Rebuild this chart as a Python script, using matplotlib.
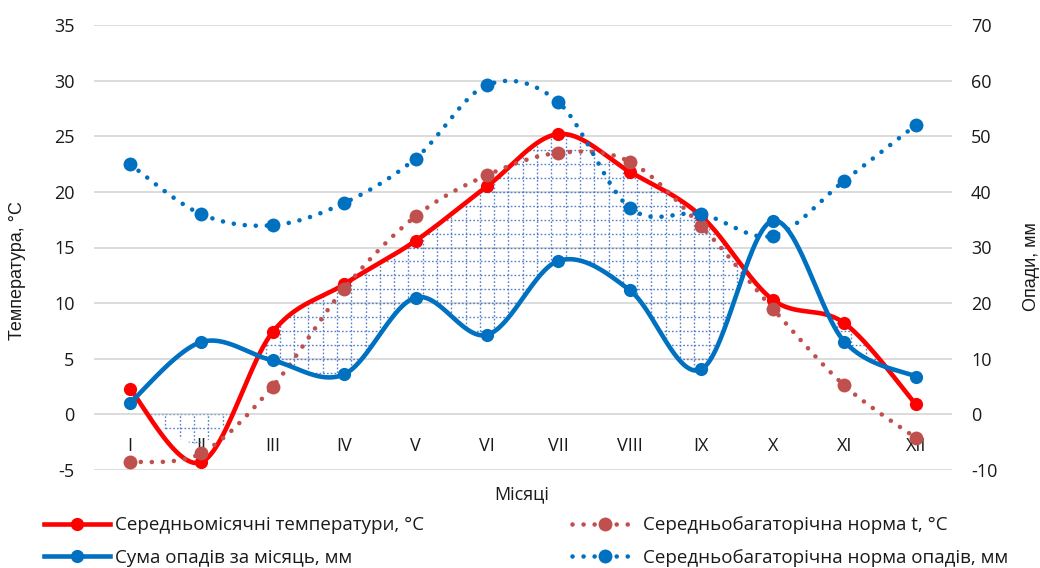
import numpy as np
import matplotlib
matplotlib.use('Agg')
import matplotlib.pyplot as plt
from matplotlib.lines import Line2D
from matplotlib.path import Path
from matplotlib.collections import LineCollection

plt.rcParams['font.family'] = ['Open Sans', 'DejaVu Sans']
plt.rcParams['axes.unicode_minus'] = False

months = ['I', 'II', 'III', 'IV', 'V', 'VI', 'VII', 'VIII', 'IX', 'X', 'XI', 'XII']
temp = [2.3, -4.3, 7.4, 11.7, 15.6, 20.5, 25.2, 21.8, 17.8, 10.3, 8.2, 0.9]
temp_norm = [-4.3, -3.5, 2.5, 11.3, 17.8, 21.5, 23.5, 22.7, 16.9, 9.5, 2.6, -2.1]
precip = [2, 13, 9.7, 7.2, 21, 14.3, 27.6, 22.3, 8.1, 34.8, 13.1, 6.8]
precip_norm = [45, 36, 34, 38, 46, 59.2, 56.1, 37.1, 36, 32.1, 42, 52]

lbl_t = 'Середньомісячні температури, °C'
lbl_tn = 'Середньобагаторічна норма t, °C'
lbl_p = 'Сума опадів за місяць, мм'
lbl_pn = 'Середньобагаторічна норма опадів, мм'

RED = '#FF0000'
BROWN = '#C0504D'
BLUE = '#0070C0'
TXT = '#1a1a1a'


def excel_smooth(x, y, n=60):
    P = np.column_stack([np.asarray(x, float), np.asarray(y, float)])
    out = []
    m = len(P)
    for i in range(m - 1):
        p0 = P[i - 1] if i > 0 else P[i]
        p1, p2 = P[i], P[i + 1]
        p3 = P[i + 2] if i + 2 < m else P[i + 1]
        c1 = p1 + (p2 - p0) / 6
        c2 = p2 - (p3 - p1) / 6
        t = np.linspace(0, 1, n, endpoint=(i == m - 2))[:, None]
        out.append((1 - t) ** 3 * p1 + 3 * (1 - t) ** 2 * t * c1
                   + 3 * (1 - t) * t ** 2 * c2 + t ** 3 * p2)
    out = np.vstack(out)
    return out[:, 0], out[:, 1]


x = np.arange(len(months))

fig = plt.figure(figsize=(10.4, 5.68), dpi=100)
ax = fig.add_axes([94 / 1040, 1 - 470 / 568, (951.5 - 94) / 1040, 445 / 568])
ax2 = ax.twinx()

ax.set_xlim(-0.5, 11.5)
ax.set_ylim(-5, 35)
ax2.set_ylim(-10, 70)
ax.set_yticks(np.arange(-5, 36, 5))
ax2.set_yticks(np.arange(-10, 71, 10))

for a in (ax, ax2):
    for s in a.spines.values():
        s.set_visible(False)
ax.grid(axis='y', color='#D9D9D9', linewidth=1.3)
ax.set_axisbelow(True)
ax.tick_params(axis='y', length=0, pad=14, labelsize=13, colors=TXT)
ax2.tick_params(axis='y', length=0, pad=14, labelsize=13, colors=TXT)
ax.spines['bottom'].set_position(('data', 0))
ax.set_xticks(x)
ax.set_xticklabels(months)
ax.tick_params(axis='x', length=0, pad=16, labelsize=13, colors=TXT)

# smoothed curves
tx, ty = excel_smooth(x, temp)
nx, ny = excel_smooth(x, temp_norm)
px, py = excel_smooth(x, precip)
qx, qy = excel_smooth(x, precip_norm)

# arid period hatch (temperature above precipitation/2)
xs = np.linspace(0, 11, 2000)
Ts = np.interp(xs, tx, ty)
Ps = np.interp(xs, px, py) / 2.0
f1 = ax.fill_between(xs, Ps, Ts, where=Ts > Ps, interpolate=True,
                     facecolor='none', edgecolor='none')
f2 = ax.fill_between(xs, 0, 0.6 * Ts, where=Ts < 0, interpolate=True,
                     facecolor='none', edgecolor='none')
paths = list(f1.get_paths()) + list(f2.get_paths())
clip = Path.make_compound_path(*paths)
segs = []
for gx in np.arange(-0.5, 11.6, 0.2):
    segs.append([(gx, -5), (gx, 35)])
for gy in np.arange(-5, 35.1, 1.25):
    segs.append([(-0.5, gy), (11.5, gy)])
lc = LineCollection(segs, colors='#4472C4', linewidths=1.0,
                    linestyles=[(0, (1.2, 1.5))], alpha=0.9, zorder=1.5)
ax.add_collection(lc)
lc.set_clip_path(clip, ax.transData)

LW = 3.3
DOT_LS = (0, (0.01, 2.4))
ax.plot(tx, ty, color=RED, lw=LW, solid_capstyle='round', zorder=3)
ax.plot(x, temp, 'o', color=RED, ms=9.5, mew=0, zorder=3)
ax.plot(nx, ny, color=BROWN, lw=LW, linestyle=DOT_LS, dash_capstyle='round', zorder=4)
ax.plot(x, temp_norm, 'o', color=BROWN, ms=10, mew=0, zorder=4)
ax2.plot(px, py, color=BLUE, lw=LW, solid_capstyle='round', zorder=3)
ax2.plot(x, precip, 'o', color=BLUE, ms=9.5, mew=0, zorder=3)
ax2.plot(qx, qy, color=BLUE, lw=LW, linestyle=DOT_LS, dash_capstyle='round', zorder=4)
ax2.plot(x, precip_norm, 'o', color=BLUE, ms=10, mew=0, zorder=4)

fig.text(522 / 1040, 1 - 494 / 568, 'Місяці', ha='center', va='center',
         fontsize=13, color=TXT)
fig.text(18 / 1040, 1 - 271 / 568, 'Температура, °C', ha='center', va='center',
         rotation=90, fontsize=13, color=TXT,
         family=['Liberation Sans', 'DejaVu Sans'])
fig.text(1032 / 1040, 1 - 267 / 568, 'Опади, мм', ha='center', va='center',
         rotation=90, fontsize=13, color=TXT,
         family=['Liberation Sans', 'DejaVu Sans'])

h_t = Line2D([], [], color=RED, lw=LW, marker='o', ms=9.5, mew=0)
h_p = Line2D([], [], color=BLUE, lw=LW, marker='o', ms=9.5, mew=0)
h_tn = Line2D([], [], color=BROWN, lw=LW, linestyle=DOT_LS, dash_capstyle='round',
              marker='o', ms=10, mew=0)
h_pn = Line2D([], [], color=BLUE, lw=LW, linestyle=DOT_LS, dash_capstyle='round',
              marker='o', ms=10, mew=0)

leg_kw = dict(frameon=False, fontsize=13.5, handlelength=3.5, handletextpad=0.3,
              labelspacing=0.75, borderpad=0, borderaxespad=0, loc='center left',
              labelcolor=TXT)
leg1 = fig.legend([h_t, h_p], [lbl_t, lbl_p],
                  bbox_to_anchor=(44 / 1040, 1 - 541.5 / 568), **leg_kw)
leg2 = fig.legend([h_tn, h_pn], [lbl_tn, lbl_pn],
                  bbox_to_anchor=(572 / 1040, 1 - 541.5 / 568), **leg_kw)

fig.savefig('out.png', dpi=100)
